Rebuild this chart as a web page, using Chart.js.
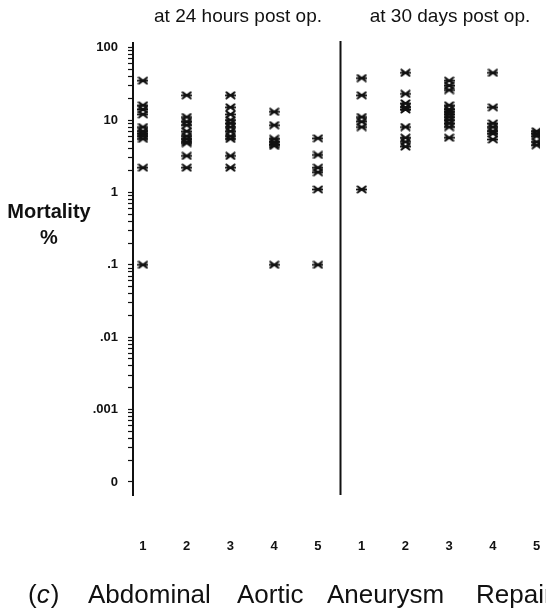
<!DOCTYPE html>
<html>
<head>
<meta charset="utf-8">
<script src="https://cdn.jsdelivr.net/npm/chart.js@4.4.1/dist/chart.umd.min.js"></script>
<style>
  body { margin: 0; background: #fff; }
  canvas { display: block; }
</style>
</head>
<body>
<canvas id="mortChart" width="546" height="616"></canvas>
<script>
// groups 1..5 (mortality %)
const groupLabels = ['1', '2', '3', '4', '5'];
const hours24 = [
    [35, 16, 14, 12, 8, 7, 6.5, 6, 5.5, 2.2, 0.1],
    [22, 11, 9.5, 8.5, 7, 6, 5.5, 5, 4.8, 3.2, 2.2],
    [22, 15, 12, 10, 9, 8, 7, 6, 5.5, 3.2, 2.2],
    [13, 8.5, 5.5, 5, 4.6, 4.4, 0.1],
    [5.6, 3.3, 2.2, 1.9, 1.1, 0.1]
];
const days30 = [
    [38, 22, 11, 9.5, 8, 1.1],
    [45, 23, 17, 15, 14, 8, 5.7, 5, 4.3],
    [35, 30, 26, 16, 14, 13, 12, 11, 10, 9, 8, 5.7],
    [45, 15, 9, 8, 7, 6.5, 5.4],
    [7, 6.5, 6, 5, 4.5]
];
const yTickValues = [100, 10, 1, 0.1, 0.01, 0.001, 0.0001];
const yTickLabels = ['100', '10', '1', '.1', '.01', '.001', '0'];
const panelTitles = ['at 24 hours post op.', 'at 30 days post op.'];
const titleWords = ['Abdominal', 'Aortic', 'Aneurysm', 'Repair'];

// asterisk marker
function makeMarker() {
    let c = document.createElement('canvas');
    c.width = 11; c.height = 9;
    let g = c.getContext('2d');
    g.strokeStyle = '#111';
    g.lineWidth = 2.1;
    g.lineCap = 'round';
    g.beginPath();
    g.moveTo(1.5, 1.5); g.lineTo(9.5, 7.5);
    g.moveTo(1.5, 7.5); g.lineTo(9.5, 1.5);
    g.moveTo(1, 4.5); g.lineTo(10, 4.5);
    g.stroke();
    return c;
}
const marker = makeMarker();

let points = [];
hours24.forEach(function(vals, i) {
    vals.forEach(function(v) { points.push({ x: i + 1, y: v }); });
});
days30.forEach(function(vals, i) {
    vals.forEach(function(v) { points.push({ x: i + 6, y: v }); });
});

const extras = {
    id: 'extras',
    afterDraw: function(chart) {
        let ctx = chart.ctx;
        let xs = chart.scales.x;
        let area = chart.chartArea;
        ctx.save();
        // divider between the two panels
        let dx = Math.round(xs.getPixelForValue(5.5)) + 0.5;
        ctx.strokeStyle = '#111';
        ctx.lineWidth = 2;
        ctx.beginPath();
        ctx.moveTo(dx, area.top - 2);
        ctx.lineTo(dx, area.bottom);
        ctx.stroke();

        ctx.fillStyle = '#111';
        ctx.textBaseline = 'alphabetic';
        ctx.textAlign = 'center';
        ctx.font = '19px "Liberation Sans", Arial, sans-serif';
        ctx.fillText(panelTitles[0], 238, 22);
        ctx.fillText(panelTitles[1], 450, 22);

        ctx.font = 'bold 20px "Liberation Sans", Arial, sans-serif';
        ctx.fillText('Mortality', 49, 218);
        ctx.fillText('%', 49, 244);

        // caption
        ctx.textAlign = 'left';
        ctx.font = '26px "Liberation Sans", Arial, sans-serif';
        ctx.fillText('(', 28, 603);
        let w = ctx.measureText('(').width;
        ctx.font = 'italic 26px "Liberation Sans", Arial, sans-serif';
        ctx.fillText('c', 28 + w, 603);
        let w2 = ctx.measureText('c').width;
        ctx.font = '26px "Liberation Sans", Arial, sans-serif';
        ctx.fillText(')', 28 + w + w2 + 1, 603);
        let wordX = [88, 237, 327, 476];
        titleWords.forEach(function(t, i) {
            ctx.fillText(t, wordX[i], 603);
        });
        ctx.restore();
    }
};

new Chart(document.getElementById('mortChart'), {
    type: 'scatter',
    data: {
        datasets: [{
            data: points,
            pointStyle: marker,
            pointRadius: 5,
            pointHoverRadius: 5
        }]
    },
    options: {
        responsive: false,
        animation: false,
        layout: { padding: { top: 43, left: 0, right: 0, bottom: 0 } },
        plugins: {
            legend: { display: false },
            tooltip: { enabled: false }
        },
        scales: {
            x: {
                type: 'linear',
                min: 0.772,
                max: 10.076,
                afterFit: function(scale) {
                    scale.height = 121;
                    scale.paddingLeft = 0;
                    scale.paddingRight = 0;
                },
                afterBuildTicks: function(scale) {
                    scale.ticks = [];
                    for (let i = 1; i <= 10; i++) scale.ticks.push({ value: i });
                },
                grid: {
                    display: true,
                    drawOnChartArea: false,
                    drawTicks: true,
                    tickLength: 44,
                    color: 'rgba(0,0,0,0)'
                },
                border: { display: false },
                ticks: {
                    padding: 0,
                    maxRotation: 0,
                    color: '#111',
                    font: { family: '"Liberation Sans", Arial, sans-serif', size: 13, weight: 'bold' },
                    callback: function(v) { return groupLabels[(v - 1) % 5]; }
                }
            },
            y: {
                type: 'logarithmic',
                min: 0.000066,
                max: 116,
                afterFit: function(scale) { scale.width = 133; },
                afterBuildTicks: function(scale) {
                    let t = [];
                    for (let n = -4; n <= 2; n++) {
                        for (let k = 1; k <= 9; k++) {
                            let v = k * Math.pow(10, n);
                            if (v <= 100.0001) t.push({ value: v });
                        }
                    }
                    scale.ticks = t;
                },
                grid: {
                    drawOnChartArea: false,
                    drawTicks: true,
                    tickLength: 5,
                    tickWidth: 1.2,
                    tickColor: '#111'
                },
                border: { display: true, color: '#111', width: 2 },
                ticks: {
                    autoSkip: false,
                    padding: 10,
                    color: '#111',
                    font: { family: '"Liberation Sans", Arial, sans-serif', size: 13, weight: 'bold' },
                    callback: function(v) {
                        for (let i = 0; i < yTickValues.length; i++) {
                            if (Math.abs(v / yTickValues[i] - 1) < 1e-6) return yTickLabels[i];
                        }
                        return '';
                    }
                }
            }
        }
    },
    plugins: [extras]
});
</script>
</body>
</html>
